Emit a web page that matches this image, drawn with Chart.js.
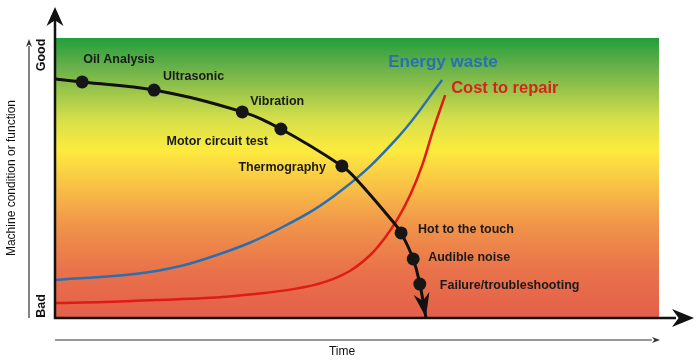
<!DOCTYPE html>
<html>
<head>
<meta charset="utf-8">
<script src="https://cdn.jsdelivr.net/npm/chart.js@4/dist/chart.umd.min.js"></script>
<style>
  body { margin: 0; background: #fff; }
  #wrap { width: 700px; height: 364px; position: relative; }
</style>
</head>
<body>
<div id="wrap"><canvas id="myChart"></canvas></div>
<script>
// P-F curve (machine condition over time), 0-100 units
const pfTime = [0, 4.5, 16.4, 31.0, 37.4, 47.5, 50.0, 56.0, 57.3, 59.3, 60.4, 61.4]
const pfCondition = [85.4, 84.3, 81.4, 73.6, 67.5, 54.3, 49.3, 34.3, 30.4, 21.1, 12.1, 0.3]
const pfLabels = ['', 'Oil Analysis', 'Ultrasonic', 'Vibration', 'Motor circuit test', 'Thermography', '', '', 'Hot to the touch', 'Audible noise', 'Failure/troubleshooting', '']

const energyTime = [0, 15.7, 26.8, 37.7, 47.5, 56.8, 64.1]
const energyValue = [13.6, 16.4, 22.5, 32.5, 45.7, 64.6, 85.0]

const costTime = [0, 8.3, 16.6, 24.8, 33.1, 39.7, 44.7, 48.8, 52.2, 54.6, 56.8, 58.8, 60.8, 62.6, 64.6]
const costValue = [5.4, 5.7, 6.4, 7.1, 8.6, 10.4, 12.9, 16.8, 22.5, 28.6, 35.7, 43.9, 54.6, 67.1, 79.6]

const seriesNames = ['Energy waste', 'Cost to repair']
const axisTitles = { x: 'Time', y: 'Machine condition or function', top: 'Good', bottom: 'Bad' }

// label offsets in px from the dot, and alignment
const labelStyle = {
  'Oil Analysis': [1, -22, 'left'],
  'Ultrasonic': [9, -14, 'left'],
  'Vibration': [8, -10, 'left'],
  'Motor circuit test': [-13, 13, 'right'],
  'Thermography': [-16, 2, 'right'],
  'Hot to the touch': [17, -3, 'left'],
  'Audible noise': [15, -1, 'left'],
  'Failure/troubleshooting': [20, 1, 'left']
}

const toXY = (xs, ys) => xs.map((x, i) => ({ x: x, y: ys[i] }))

function arrowHead(c, tx, ty, dx, dy, len, half) {
  const l = Math.hypot(dx, dy)
  const ux = dx / l, uy = dy / l
  const bx = tx - ux * len, by = ty - uy * len
  c.beginPath()
  c.moveTo(tx, ty)
  c.lineTo(bx - uy * half, by + ux * half)
  c.lineTo(bx + ux * len * 0.3, by + uy * len * 0.3)
  c.lineTo(bx + uy * half, by - ux * half)
  c.closePath()
  c.fill()
}

const backdrop = {
  id: 'backdrop',
  beforeDatasetsDraw(chart) {
    const c = chart.ctx, a = chart.chartArea
    const g = c.createLinearGradient(0, a.top, 0, a.bottom)
    g.addColorStop(0, '#229e3c')
    g.addColorStop(0.11, '#6cb24a')
    g.addColorStop(0.29, '#d6df4a')
    g.addColorStop(0.40, '#fdeb3e')
    g.addColorStop(0.53, '#f9c146')
    g.addColorStop(0.66, '#f1964a')
    g.addColorStop(0.83, '#e9724a')
    g.addColorStop(1, '#e45f4a')
    c.save()
    c.fillStyle = g
    c.fillRect(a.left, a.top, a.right - a.left, a.bottom - a.top)
    c.restore()
  }
}

const decorations = {
  id: 'decorations',
  afterDatasetsDraw(chart) {
    const c = chart.ctx, a = chart.chartArea
    c.save()
    // main axes
    c.strokeStyle = '#111'
    c.fillStyle = '#111'
    c.lineWidth = 2.5
    c.beginPath()
    c.moveTo(a.left, 20)
    c.lineTo(a.left, a.bottom)
    c.lineTo(676, a.bottom)
    c.stroke()
    arrowHead(c, a.left, 7, 0, -1, 19, 8.5)
    arrowHead(c, 694, a.bottom, 1, 0, 22, 9)

    // thin arrows
    c.lineWidth = 1.2
    c.strokeStyle = '#333'
    c.fillStyle = '#333'
    c.beginPath()
    c.moveTo(29, a.bottom)
    c.lineTo(29, 46)
    c.moveTo(a.left, 340)
    c.lineTo(652, 340)
    c.stroke()
    arrowHead(c, 29, 39, 0, -1, 8, 3)
    arrowHead(c, 660, 340, 1, 0, 8, 3)

    // arrow at the end of P-F curve
    const pts = chart.getDatasetMeta(0).data
    const p1 = pts[pts.length - 2], p2 = pts[pts.length - 1]
    c.fillStyle = '#111'
    arrowHead(c, p2.x, p2.y, p2.x - p1.x, p2.y - p1.y, 24, 8)

    // point labels
    c.font = 'bold 12.5px "Liberation Sans", Arial, sans-serif'
    c.fillStyle = '#1a1a1a'
    c.textBaseline = 'middle'
    pfLabels.forEach((t, i) => {
      if (!t) return
      const s = labelStyle[t]
      c.textAlign = s[2]
      c.fillText(t, pts[i].x + s[0], pts[i].y + s[1])
    })

    // series labels
    const eEnd = chart.getDatasetMeta(2).data.at(-1)
    const cEnd = chart.getDatasetMeta(3).data.at(-1)
    c.textAlign = 'left'
    c.font = 'bold 17px "Liberation Sans", Arial, sans-serif'
    c.fillStyle = '#2a6fb0'
    c.fillText(seriesNames[0], eEnd.x - 54, eEnd.y - 18)
    c.font = 'bold 16.5px "Liberation Sans", Arial, sans-serif'
    c.fillStyle = '#d8231d'
    c.fillText(seriesNames[1], cEnd.x + 6, cEnd.y - 7)

    // axis texts
    c.fillStyle = '#111'
    c.font = '12px "Liberation Sans", Arial, sans-serif'
    c.textAlign = 'center'
    c.fillText(axisTitles.x, 342, 352)
    c.translate(12, 178)
    c.rotate(-Math.PI / 2)
    c.fillText(axisTitles.y, 0, 0)
    c.setTransform(1, 0, 0, 1, 0, 0)
    c.font = 'bold 12.5px "Liberation Sans", Arial, sans-serif'
    c.translate(42, 55)
    c.rotate(-Math.PI / 2)
    c.fillText(axisTitles.top, 0, 0)
    c.setTransform(1, 0, 0, 1, 0, 0)
    c.translate(42, 306)
    c.rotate(-Math.PI / 2)
    c.fillText(axisTitles.bottom, 0, 0)
    c.restore()
  }
}

const ctx = document.getElementById('myChart')
new Chart(ctx, {
  type: 'line',
  data: {
    datasets: [
      {
        data: toXY(pfTime, pfCondition),
        borderColor: '#111',
        borderWidth: 3,
        tension: 0.4,
        pointRadius: 0,
        order: 0
      },
      {
        data: toXY(pfTime, pfCondition).filter((p, i) => pfLabels[i]),
        showLine: false,
        pointRadius: 6.5,
        pointBackgroundColor: '#161616',
        pointBorderWidth: 0,
        order: -1
      },
      {
        label: seriesNames[0],
        data: toXY(energyTime, energyValue),
        borderColor: '#2a6fb0',
        borderWidth: 2.5,
        tension: 0.4,
        pointRadius: 0,
        order: 2
      },
      {
        label: seriesNames[1],
        data: toXY(costTime, costValue),
        borderColor: '#e01b16',
        borderWidth: 2.5,
        tension: 0.4,
        pointRadius: 0,
        order: 1
      }
    ]
  },
  options: {
    responsive: true,
    maintainAspectRatio: false,
    animation: false,
    layout: { padding: { left: 55, top: 38, right: 41, bottom: 46 } },
    scales: {
      x: { type: 'linear', min: 0, max: 100, display: false },
      y: { min: 0, max: 100, display: false }
    },
    plugins: {
      legend: { display: false },
      tooltip: { enabled: false }
    }
  },
  plugins: [backdrop, decorations]
})
</script>
</body>
</html>
